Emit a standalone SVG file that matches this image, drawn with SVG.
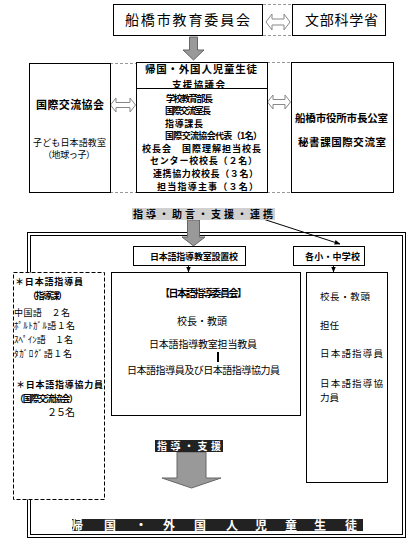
<svg xmlns="http://www.w3.org/2000/svg" width="420" height="539" viewBox="0 0 420 539">
<style>
text{font-family:"Noto Sans CJK JP","Noto Sans CJK SC",sans-serif;fill:#000}
.b{font-weight:bold}
.box{fill:#fff;stroke:#000;stroke-width:1}
.dash{fill:none;stroke:#999;stroke-width:1;stroke-dasharray:3 2}
.dbl{fill:#fff;stroke:#888;stroke-width:1}
.blk{fill:#999;stroke:#666;stroke-width:1}
.w{fill:#fff}
</style>
<defs>
<marker id="ah" viewBox="0 0 10 10" refX="9" refY="5" markerWidth="6" markerHeight="6" orient="auto"><path d="M0,1 L10,5 L0,9 z" fill="#000"/></marker>
</defs>
<rect width="420" height="539" fill="#fff"/>
<g id="frame">
<rect x="27.5" y="232.5" width="378" height="305" fill="none" stroke="#000"/>
<rect x="30.5" y="235.5" width="372" height="299" fill="none" stroke="#000"/>
</g>
<g id="connectors">
<line class="dash" x1="263" y1="4.5" x2="292" y2="4.5"/>
<line class="dash" x1="263" y1="35.5" x2="292" y2="35.5"/>
<line class="dash" x1="110" y1="63.5" x2="136" y2="63.5"/>
<line class="dash" x1="110" y1="192.5" x2="136" y2="192.5"/>
<line class="dash" x1="267" y1="62.5" x2="291" y2="62.5"/>
<line class="dash" x1="267" y1="192.5" x2="291" y2="192.5"/>
<path class="dbl" d="M266,22 L272,14 L272,19 L284,19 L284,14 L290,22 L284,30 L284,25 L272,25 L272,30 Z"/>
<path class="dbl" d="M110.5,105 L116,98 L116,102.5 L130,102.5 L130,98 L135.5,105 L130,112 L130,107.5 L116,107.5 L116,112 Z"/>
<path class="dbl" d="M267.5,102 L273,95 L273,99.5 L285,99.5 L285,95 L290.5,102 L285,109 L285,104.5 L273,104.5 L273,109 Z"/>
<path class="blk" d="M189.5,37 L197.5,37 L197.5,50 L204,50 L193.5,60 L183,50 L189.5,50 Z"/>
<path class="blk" d="M187.5,220 L199.5,220 L199.5,237 L205,237 L193.5,246 L182,237 L187.5,237 Z"/>
<line x1="263" y1="219" x2="340" y2="244" stroke="#000" stroke-width="1" marker-end="url(#ah)"/>
<line x1="188.5" y1="265" x2="188.5" y2="272" stroke="#000" stroke-width="1" marker-end="url(#ah)"/>
<line x1="333.5" y1="265" x2="333.5" y2="272" stroke="#000" stroke-width="1" marker-end="url(#ah)"/>
<path class="blk" d="M177,452 L206,452 L206,478 L221,478 L191.5,488 L162,478 L177,478 Z"/>
</g>
<g id="kyoiku">
<rect class="box" x="113.5" y="4.5" width="149" height="31"/>
<text x="125" y="25" font-size="14" textLength="125">船橋市教育委員会</text>
</g>
<g id="monbu">
<rect class="box" x="292.5" y="4.5" width="93" height="31"/>
<text x="305" y="25" font-size="14" textLength="73">文部科学省</text>
</g>
<g id="kyokai">
<rect class="box" x="29.5" y="63.5" width="81" height="129"/>
<text class="b" x="36" y="109" font-size="11" textLength="68">国際交流協会</text>
<text x="33" y="146" font-size="9" textLength="73">子ども日本語教室</text>
<text x="43" y="158" font-size="9" textLength="52">（地球っ子）</text>
</g>
<g id="kyogikai">
<rect class="box" x="136.5" y="62.5" width="131" height="130"/>
<line x1="136.5" y1="88.5" x2="267.5" y2="88.5" stroke="#000"/>
<text class="b" x="145" y="73" font-size="10.5" textLength="112">帰国・外国人児童生徒</text>
<text class="b" x="172" y="87.5" font-size="9.5" textLength="53">支援協議会</text>
<g class="b" font-size="9">
<text x="166" y="101.5" textLength="47">学校教育部長</text>
<text x="165" y="114" textLength="46">国際交流室長</text>
<text x="165" y="126.5" textLength="38">指導課長</text>
<text x="165" y="139" textLength="97">国際交流協会代表（1名）</text>
<text x="142" y="151.5" textLength="119">校長会　国際理解担当校長</text>
<text x="150" y="164" textLength="107">センター校校長（２名）</text>
<text x="153" y="176.5" textLength="105">連携協力校校長（３名）</text>
<text x="157" y="189.5" textLength="101">担当指導主事（３名）</text>
</g>
</g>
<g id="shicho">
<rect class="box" x="291.5" y="62.5" width="102" height="130"/>
<text class="b" x="295" y="122" font-size="10.5" textLength="93">船橋市役所市長公室</text>
<text class="b" x="298" y="146" font-size="10.5" textLength="88">秘書課国際交流室</text>
</g>
<g id="label1">
<rect x="132" y="208" width="143" height="12" fill="#d0d0d0"/>
<text class="b" x="133" y="218" font-size="10" textLength="140">指導・助言・支援・連携</text>
</g>
<g id="setchiko">
<rect class="box" x="133.5" y="246.5" width="112" height="19"/>
<text class="b" x="150" y="259.5" font-size="9" textLength="88">日本語指導教室設置校</text>
</g>
<g id="shochu">
<rect class="box" x="293.5" y="246.5" width="71" height="19"/>
<text class="b" x="305" y="259.5" font-size="9" textLength="55">各小・中学校</text>
</g>
<g id="iinkai">
<rect class="box" x="111.5" y="272.5" width="189" height="143"/>
<text class="b" x="160" y="297" font-size="10" textLength="87">【日本語指導委員会】</text>
<text x="177" y="325" font-size="10" textLength="50">校長・教頭</text>
<text x="149" y="348" font-size="10" textLength="108">日本語指導教室担当教員</text>
<line x1="218" y1="352" x2="218" y2="362" stroke="#000" stroke-width="2"/>
<text x="127" y="374" font-size="10" textLength="153">日本語指導員及び日本語指導協力員</text>
</g>
<g id="members">
<rect class="box" x="306.5" y="272.5" width="81" height="210"/>
<g font-size="9.5">
<text x="320" y="300" textLength="50">校長・教頭</text>
<text x="320" y="329">担任</text>
<text x="320" y="357" textLength="63">日本語指導員</text>
<text x="320" y="386.5" textLength="63">日本語指導協</text>
<text x="320" y="400.5">力員</text>
</g>
</g>
<g id="shidoin">
<rect x="13.5" y="272.5" width="91" height="227" fill="#fff" stroke="#000" stroke-dasharray="4 2"/>
<text class="b" x="15" y="285" font-size="9" textLength="68">＊日本語指導員</text>
<text class="b" x="28" y="298.5" font-size="9" textLength="39">（指導課）</text>
<text x="14" y="315.5" font-size="9" textLength="56">中国語　２名</text>
<text x="14" y="329" font-size="9" textLength="61">ﾎﾟﾙﾄｶﾞﾙ語１名</text>
<text x="14" y="343" font-size="9" textLength="59">ｽﾍﾟｲﾝ語　１名</text>
<text x="14" y="357" font-size="9" textLength="58">ﾀｶﾞﾛｸﾞ語１名</text>
<text class="b" x="16" y="388" font-size="9" textLength="87">＊日本語指導協力員</text>
<text class="b" x="15" y="401.5" font-size="9" textLength="63">（国際交流協会）</text>
<text x="47" y="415.5" font-size="10" textLength="28">２５名</text>
</g>
<g id="label2">
<rect x="155" y="440" width="68" height="12" fill="#222"/>
<text class="b w" x="157" y="450" font-size="10" textLength="64">指導・支援</text>
</g>
<g id="jido">
<rect x="72" y="519" width="291" height="12" fill="#222"/>
<text class="b w" x="71 104 135 163 194 226 255 285 314 345" y="530" font-size="12">帰国・外国人児童生徒</text>
</g>
</svg>
